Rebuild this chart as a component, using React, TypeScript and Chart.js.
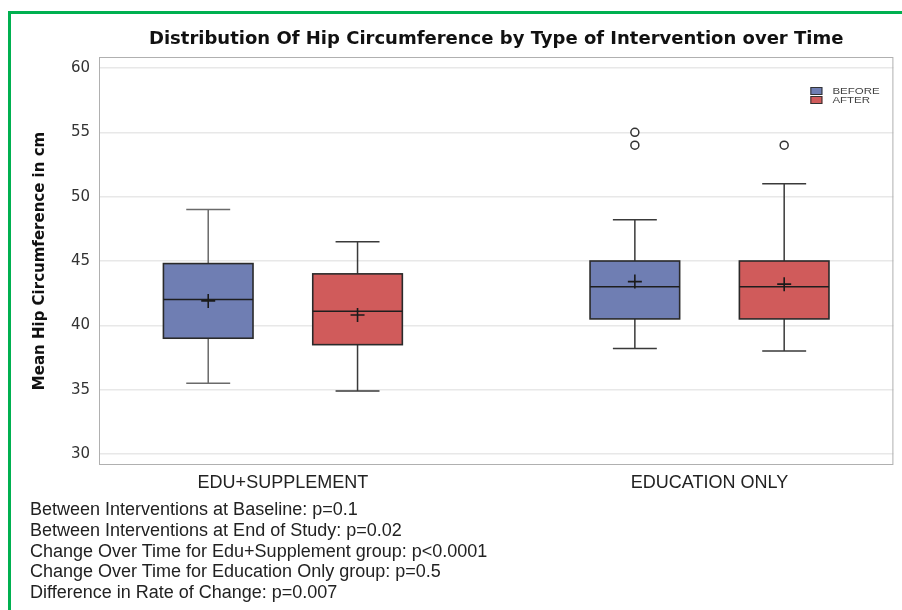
import React, { useEffect, useRef } from "react";
import { Chart, registerables } from "chart.js";

Chart.register(...registerables);

// ---- data ----
const categories = ["EDU+SUPPLEMENT", "EDUCATION ONLY"];
const seriesNames = ["BEFORE", "AFTER"];
const seriesColors = ["#6F7EB3", "#D05B5B"];

const beforeMin = [35.5, 38.2];
const beforeQ1 = [39.0, 40.5];
const beforeMedian = [42.0, 43.0];
const beforeQ3 = [44.8, 45.0];
const beforeMax = [49.0, 48.2];
const beforeMean = [41.9, 43.4];
const beforeOutliers: number[][] = [[], [54, 55]];

const afterMin = [34.9, 38.0];
const afterQ1 = [38.5, 40.5];
const afterMedian = [41.1, 43.0];
const afterQ3 = [44.0, 45.0];
const afterMax = [46.5, 51.0];
const afterMean = [40.8, 43.2];
const afterOutliers: number[][] = [[], [54]];

const yTicks = [30, 35, 40, 45, 50, 55, 60];

const chartTitle = "Distribution Of Hip Circumference by Type of Intervention over Time";
const yTitle = "Mean Hip Circumference in cm";

const footnotes = [
  "Between Interventions at Baseline: p=0.1",
  "Between Interventions at End of Study: p=0.02",
  "Change Over Time for Edu+Supplement group: p<0.0001",
  "Change Over Time for Education Only group: p=0.5",
  "Difference in Rate of Change: p=0.007",
];

// ---- layout constants ----
const W = 902;
const H = 610;
const GROUP_OFFSET = 0.175; // series offset within a category (category units)
const BOX_HALF = 0.105;
const CAP_HALF = 0.0515;

const stats = [
  { min: beforeMin, q1: beforeQ1, med: beforeMedian, q3: beforeQ3, max: beforeMax },
  { min: afterMin, q1: afterQ1, med: afterMedian, q3: afterQ3, max: afterMax },
];
const offsets = [-GROUP_OFFSET, GROUP_OFFSET];

const boxPlugin = {
  id: "boxes",
  beforeDatasetsDraw(chart: any) {
    const { ctx } = chart;
    const xs = chart.scales.x;
    const ys = chart.scales.y;
    ctx.save();
    stats.forEach((st, s) => {
      categories.forEach((_, i) => {
        const cx = xs.getPixelForValue(i + offsets[s]);
        const left = xs.getPixelForValue(i + offsets[s] - BOX_HALF);
        const right = xs.getPixelForValue(i + offsets[s] + BOX_HALF);
        const capL = xs.getPixelForValue(i + offsets[s] - CAP_HALF);
        const capR = xs.getPixelForValue(i + offsets[s] + CAP_HALF);
        const pMin = ys.getPixelForValue(st.min[i]);
        const pQ1 = ys.getPixelForValue(st.q1[i]);
        const pMed = ys.getPixelForValue(st.med[i]);
        const pQ3 = ys.getPixelForValue(st.q3[i]);
        const pMax = ys.getPixelForValue(st.max[i]);

        // whiskers and caps
        ctx.strokeStyle = i === 0 && s === 0 ? "#6a6a6a" : "#3a3a3a";
        ctx.lineWidth = 1.5;
        ctx.beginPath();
        ctx.moveTo(cx, pQ3);
        ctx.lineTo(cx, pMax);
        ctx.moveTo(capL, pMax);
        ctx.lineTo(capR, pMax);
        ctx.moveTo(cx, pQ1);
        ctx.lineTo(cx, pMin);
        ctx.moveTo(capL, pMin);
        ctx.lineTo(capR, pMin);
        ctx.stroke();

        // box
        ctx.fillStyle = seriesColors[s];
        ctx.fillRect(left, pQ3, right - left, pQ1 - pQ3);
        ctx.strokeStyle = "#2a2a2a";
        ctx.lineWidth = 1.6;
        ctx.strokeRect(left, pQ3, right - left, pQ1 - pQ3);

        // median
        ctx.beginPath();
        ctx.moveTo(left, pMed);
        ctx.lineTo(right, pMed);
        ctx.strokeStyle = "#1e1e1e";
        ctx.lineWidth = 1.5;
        ctx.stroke();
      });
    });
    ctx.restore();
  },
  afterDraw(chart: any) {
    const { ctx, chartArea } = chart;
    ctx.save();
    // plot frame
    ctx.strokeStyle = "#b0b0b0";
    ctx.lineWidth = 1;
    ctx.strokeRect(chartArea.left + 0.5, chartArea.top + 0.5, chartArea.right - chartArea.left - 1, chartArea.bottom - chartArea.top - 1);

    // title, centred over the plot area
    ctx.fillStyle = "#111";
    ctx.font = "bold 18px 'DejaVu Sans', sans-serif";
    ctx.textAlign = "center";
    ctx.textBaseline = "middle";
    ctx.fillText(chartTitle, (chartArea.left + chartArea.right) / 2, 39);

    // legend in the top-right corner of the plot
    const lx = chartArea.right - 83;
    const ly = chartArea.top + 30;
    seriesNames.forEach((name, s) => {
      const y0 = ly + s * 9;
      ctx.fillStyle = seriesColors[s];
      ctx.fillRect(lx, y0, 12, 8);
      ctx.strokeStyle = "#333";
      ctx.lineWidth = 1;
      ctx.strokeRect(lx + 0.5, y0 + 0.5, 11, 7);
      ctx.save();
      ctx.translate(lx + 22, y0 + 4.5);
      ctx.scale(1, 0.8);
      ctx.fillStyle = "#444";
      ctx.font = "11.5px 'Liberation Sans', Arial, sans-serif";
      ctx.textAlign = "left";
      ctx.textBaseline = "middle";
      ctx.fillText(name, 0, 0);
      ctx.restore();
    });
    ctx.restore();
  },
};

export default function App() {
  const canvasRef = useRef<HTMLCanvasElement | null>(null);

  useEffect(() => {
    const canvas = canvasRef.current;
    if (!canvas) return;

    const meanSets = [beforeMean, afterMean].map((means, s) => ({
      label: seriesNames[s] + " mean",
      data: means.map((v, i) => ({ x: i + offsets[s], y: v })),
      pointStyle: "cross",
      pointRadius: 7,
      pointBorderWidth: 1.6,
      borderColor: "#1a1a1a",
      backgroundColor: "#1a1a1a",
      showLine: false,
    }));
    const outlierSets = [beforeOutliers, afterOutliers].map((outs, s) => ({
      label: seriesNames[s] + " outliers",
      data: outs.flatMap((vals, i) => vals.map((v) => ({ x: i + offsets[s], y: v }))),
      pointStyle: "circle",
      pointRadius: 4,
      pointBorderWidth: 1.5,
      borderColor: "#333",
      backgroundColor: "#ffffff",
      showLine: false,
    }));

    const chart = new Chart(canvas, {
      type: "scatter",
      data: { datasets: [...meanSets, ...outlierSets] as any },
      options: {
        animation: false,
        responsive: false,
        events: [],
        layout: { padding: { top: 57, right: 6, left: 0, bottom: 0 } },
        plugins: {
          legend: { display: false },
          tooltip: { enabled: false },
          title: { display: false },
        },
        scales: {
          x: {
            type: "linear",
            min: -0.431,
            max: 1.431,
            afterBuildTicks: (s: any) => {
              s.ticks = categories.map((_, i) => ({ value: i }));
            },
            afterFit: (s: any) => {
              s.height = 145;
            },
            grid: { display: false, drawTicks: false },
            border: { display: false },
            ticks: {
              autoSkip: false,
              maxRotation: 0,
              padding: 7,
              color: "#222",
              font: { family: "'Liberation Sans', Arial, sans-serif", size: 18 },
              callback: (v: any) => categories[v as number] ?? "",
            },
          },
          y: {
            type: "linear",
            min: 29.15,
            max: 60.85,
            afterBuildTicks: (s: any) => {
              s.ticks = yTicks.map((v) => ({ value: v }));
            },
            afterFit: (s: any) => {
              s.width = 99;
            },
            grid: { color: "#e8e8e8", lineWidth: 1.5, drawTicks: false },
            border: { display: false },
            ticks: {
              padding: 9,
              color: "#333",
              font: { family: "'DejaVu Sans', sans-serif", size: 15 },
            },
            title: {
              display: true,
              text: yTitle,
              color: "#111",
              padding: { top: 31, bottom: 0 },
              font: { family: "'DejaVu Sans', sans-serif", size: 15, weight: "bold" },
            },
          },
        },
      },
      plugins: [boxPlugin],
    } as any);

    return () => chart.destroy();
  }, []);

  return (
    <div style={{ position: "fixed", left: 0, top: 0, width: W, height: H, background: "#fff", overflow: "hidden" }}>
      <canvas ref={canvasRef} width={W} height={H} style={{ position: "absolute", left: 0, top: 0, display: "block" }} />
      <div
        style={{
          position: "absolute",
          left: 8,
          top: 11,
          width: W - 8,
          height: H - 11,
          borderLeft: "3px solid #00B050",
          borderTop: "3px solid #00B050",
          boxSizing: "border-box",
          pointerEvents: "none",
        }}
      />
      <div
        style={{
          position: "absolute",
          left: 30,
          top: 499,
          fontFamily: "'Liberation Sans', Arial, sans-serif",
          fontSize: 18,
          lineHeight: "20.8px",
          color: "#222",
          whiteSpace: "nowrap",
        }}
      >
        {footnotes.map((t) => (
          <div key={t}>{t}</div>
        ))}
      </div>
    </div>
  );
}
